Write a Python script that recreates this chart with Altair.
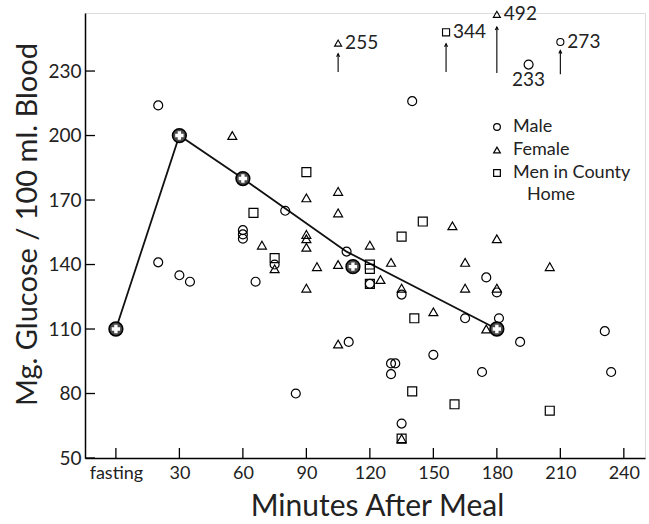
import altair as alt
import pandas as pd

# ---------------- data ----------------
male_min = [20, 20, 30, 35, 60, 60, 60, 66, 75, 80, 85, 109, 110, 120, 130, 132, 130, 135, 135,
            140, 150, 165, 173, 175, 180, 181, 191, 195, 231, 234]
male_val = [214, 141, 135, 132, 152, 154, 156, 132, 140, 165, 80, 146, 104, 131, 94, 94, 89, 126, 66,
            216, 98, 115, 90, 134, 127, 115, 104, 233, 109, 90]

female_min = [55, 69, 75, 90, 90, 90, 90, 90, 95, 105, 105, 105, 105, 120, 125, 130, 135, 135,
              150, 159, 165, 165, 175, 180, 180, 205]
female_val = [200, 149, 138, 171, 154, 152, 148, 129, 139, 174, 164, 140, 103, 149, 133, 141, 129, 59,
              118, 158, 141, 129, 110, 152, 129, 139]

home_min = [65, 75, 90, 120, 120, 120, 135, 141, 140, 145, 160, 205, 135]
home_val = [164, 143, 183, 140, 138, 131, 153, 115, 81, 160, 75, 72, 59]

# mean curve and starred mean markers
line_min = [0, 30, 60, 109, 180]
line_val = [110, 200, 180, 146, 110]
star_min = [0, 30, 60, 112, 180]
star_val = [110, 200, 180, 139, 110]

# off-scale values drawn at the top with arrows
out_group = ["Female", "Men in County Home", "Female", "Male"]
out_min = [105, 156, 180, 210]
out_label = ["255", "344", "492", "273"]
out_mark_y = [243, 248, 256.4, 243.5]
out_arrow_top = [238, 242.7, 250.5, 239.6]
out_arrow_bottom = [229.5, 229.5, 229.1, 228.5]

note_min = [195]
note_val = [233]
note_text = ["233"]

x_ticks = [0, 30, 60, 90, 120, 150, 180, 210, 240]
y_ticks = [50, 80, 110, 140, 170, 200, 230]

groups = ["Male", "Female", "Men in County Home"]
shapes = ["circle", "triangle-up", "square"]
legend_wrap = ["Men in County", "Home"]  # last legend label, set on two lines

# ---------------- tables ----------------
pts = pd.concat([
    pd.DataFrame({"m": male_min, "v": male_val, "g": "Male"}),
    pd.DataFrame({"m": female_min, "v": female_val, "g": "Female"}),
    pd.DataFrame({"m": home_min, "v": home_val, "g": "Men in County Home"}),
], ignore_index=True)
line_df = pd.DataFrame({"m": line_min, "v": line_val})
star_df = pd.DataFrame({"m": star_min, "v": star_val})
out_df = pd.DataFrame({"g": out_group, "m": out_min, "lab": out_label, "my": out_mark_y,
                       "top": out_arrow_top, "bot": out_arrow_bottom})
note_df = pd.DataFrame({"m": note_min, "v": note_val, "t": note_text})
xt_df = pd.DataFrame({"m": x_ticks})
yt_df = pd.DataFrame({"v": y_ticks})
wrap_df = pd.DataFrame({"t": [legend_wrap[1]]})

W, H = 560, 445
FONT = "Lato"
TXT = "#222"
LEG_X, LEG_Y = 403, 105
xs = alt.Scale(domain=[-14.6, 250], nice=False, zero=False)
ys = alt.Scale(domain=[50, 257], nice=False, zero=False)
shape_scale = alt.Scale(domain=groups, range=shapes)

x_axis = alt.Axis(values=x_ticks, labelExpr="datum.value == 0 ? 'fasting' : datum.label",
                  ticks=False, grid=False, domainColor="black", domainWidth=1.5,
                  labelFontSize=18, labelPadding=6, labelColor=TXT, labelFont=FONT,
                  title="Minutes After Meal", titleFontSize=30, titleFontWeight="normal",
                  titleFont=FONT, titleColor=TXT, titleX=292, titleY=48,
                  titleBaseline="middle", titleAlign="center")
y_axis = alt.Axis(values=y_ticks, ticks=False, grid=False, domainColor="black", domainWidth=1.5,
                  labelFontSize=19, labelPadding=4, labelColor=TXT, labelFont=FONT,
                  title="Mg. Glucose / 100 ml. Blood", titleFontSize=29, titleFontWeight="normal",
                  titleFont=FONT, titleColor=TXT, titleX=-58, titleY=211, titleAngle=270,
                  titleBaseline="middle", titleAlign="center")

legend = alt.Legend(
    title=None, orient="none", legendX=LEG_X, legendY=LEG_Y, padding=0,
    labelFontSize=18, labelFont=FONT, labelColor=TXT, labelOffset=7,
    symbolSize=45, symbolStrokeWidth=1.2, symbolStrokeColor="black",
    rowPadding=5, labelLimit=300,
    labelExpr=f"datum.label == '{groups[2]}' ? '{legend_wrap[0]}' : datum.label",
)

points = alt.Chart(pts).mark_point(filled=False, color="black", strokeWidth=1.2, size=80,
                                   opacity=1).encode(
    x=alt.X("m:Q", scale=xs, axis=x_axis),
    y=alt.Y("v:Q", scale=ys, axis=y_axis),
    shape=alt.Shape("g:N", scale=shape_scale, legend=legend),
)

# second line of the last legend label
wrap_text = alt.Chart(wrap_df).mark_text(align="left", baseline="middle", fontSize=18,
                                         font=FONT, color=TXT).encode(
    x=alt.value(LEG_X + 39), y=alt.value(LEG_Y + 77), text="t:N")

line = alt.Chart(line_df).mark_line(color="#111", strokeWidth=1.8).encode(
    x=alt.X("m:Q", scale=xs), y=alt.Y("v:Q", scale=ys))

star_outer = alt.Chart(star_df).mark_point(shape="circle", filled=True, fill="#4a4a4a",
                                           stroke="black", strokeWidth=1.5, size=190, opacity=1).encode(
    x=alt.X("m:Q", scale=xs), y=alt.Y("v:Q", scale=ys))
star_inner = alt.Chart(star_df).mark_point(shape="cross", filled=True, color="white", size=70,
                                           opacity=1).encode(
    x=alt.X("m:Q", scale=xs), y=alt.Y("v:Q", scale=ys))

x_tick_marks = alt.Chart(xt_df).mark_rule(color="black", strokeWidth=1.3).encode(
    x=alt.X("m:Q", scale=xs), y=alt.value(H), y2=alt.value(H - 10))
y_tick_marks = alt.Chart(yt_df).mark_rule(color="black", strokeWidth=1.3).encode(
    y=alt.Y("v:Q", scale=ys), x=alt.value(0), x2=alt.value(10))

out_layers = []
for grp, shp in zip(groups, shapes):
    out_layers.append(
        alt.Chart(out_df).transform_filter(alt.datum.g == grp).mark_point(
            filled=False, color="black", strokeWidth=1.1, size=50, opacity=1, shape=shp).encode(
            x=alt.X("m:Q", scale=xs), y=alt.Y("my:Q", scale=ys)))
out_text = alt.Chart(out_df).mark_text(align="left", baseline="middle", dx=7, fontSize=19,
                                       font=FONT, color=TXT).encode(
    x=alt.X("m:Q", scale=xs), y=alt.Y("my:Q", scale=ys), text="lab:N")
out_shaft = alt.Chart(out_df).mark_rule(color="black", strokeWidth=1.1).encode(
    x=alt.X("m:Q", scale=xs), y=alt.Y("bot:Q", scale=ys), y2="top:Q")
out_head = alt.Chart(out_df).mark_point(shape="M -1 2 L 0 0 L 1 2", filled=False, color="black",
                                        strokeWidth=1.1, size=9, opacity=1).encode(
    x=alt.X("m:Q", scale=xs), y=alt.Y("top:Q", scale=ys))

note_text_mark = alt.Chart(note_df).mark_text(align="center", baseline="top", dy=6, fontSize=19,
                                              font=FONT, color=TXT).encode(
    x=alt.X("m:Q", scale=xs), y=alt.Y("v:Q", scale=ys), text="t:N")

chart = alt.layer(
    x_tick_marks, y_tick_marks, line, points, star_outer, star_inner,
    out_shaft, out_head, *out_layers, out_text, note_text_mark, wrap_text
).properties(
    width=W, height=H,
    autosize=alt.AutoSizeParams(type="none"),
    padding={"left": 85, "top": 13, "right": 4, "bottom": 66},
    background="white",
).configure_view(stroke=None).configure(font=FONT)

chart.save("out.html", embed_options={"renderer": "svg", "actions": False})
